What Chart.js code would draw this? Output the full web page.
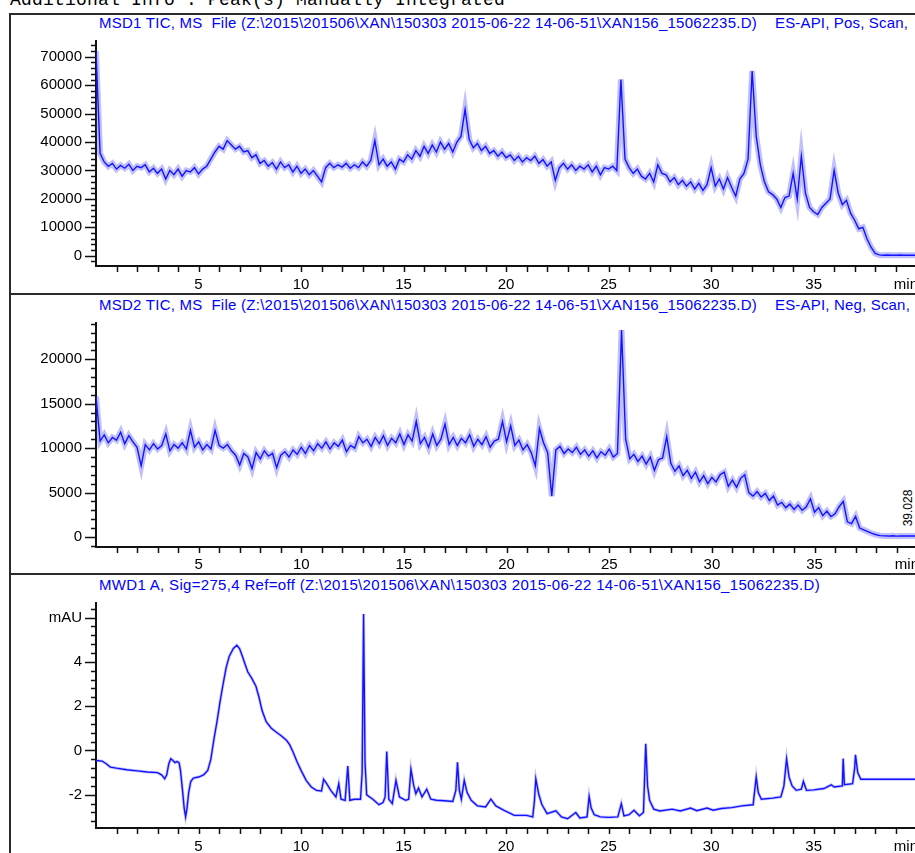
<!DOCTYPE html>
<html>
<head>
<meta charset="utf-8">
<title>MSD / MWD chromatogram</title>
<script src="https://cdn.jsdelivr.net/npm/chart.js@4.4.1/dist/chart.umd.min.js"></script>
<style>
  html, body { margin: 0; padding: 0; background: #fff; overflow: hidden; }
  body { position: relative; width: 915px; height: 853px; font-family: "Liberation Sans", Arial, sans-serif; }
  .hdr { position: absolute; left: 10px; top: -9px; font: 18px/18px "Liberation Mono", monospace; white-space: pre; color: #000; }
  .frame { position: absolute; background: #2a2a2a; }
  .ttl { position: absolute; font-size: 15px; line-height: 15px; color: #0000ff; white-space: pre; }
  .peak { position: absolute; left: 908px; top: 508px; font-size: 12px; line-height: 12px; color: #000;
          transform: translate(-50%, -50%) rotate(-90deg); white-space: pre; }
  canvas { position: absolute; left: 0; }
</style>
</head>
<body>
<div class="hdr" data-w="495">Additional Info : Peak(s) Manually Integrated</div>

<div class="frame" style="left:9px; top:14px; width:2px; height:840px;"></div>
<div class="frame" style="left:9px; top:13px; width:910px; height:2px;"></div>
<div class="frame" style="left:9px; top:293px; width:910px; height:2px;"></div>
<div class="frame" style="left:9px; top:573px; width:910px; height:2px;"></div>

<div class="ttl" style="left:99px; top:15px;" data-w="658">MSD1 TIC, MS  File (Z:\2015\201506\XAN\150303 2015-06-22 14-06-51\XAN156_15062235.D)</div>
<div class="ttl" style="left:775px; top:15px;" data-w="133">ES-API, Pos, Scan,</div>
<div class="ttl" style="left:99px; top:297px;" data-w="658">MSD2 TIC, MS  File (Z:\2015\201506\XAN\150303 2015-06-22 14-06-51\XAN156_15062235.D)</div>
<div class="ttl" style="left:775px; top:297px;" data-w="135">ES-API, Neg, Scan,</div>
<div class="ttl" style="left:99px; top:577px;" data-w="721">MWD1 A, Sig=275,4 Ref=off (Z:\2015\201506\XAN\150303 2015-06-22 14-06-51\XAN156_15062235.D)</div>
<div class="peak">39.028</div>

<canvas id="msd1" width="928" height="279" style="top:14px"></canvas>
<canvas id="msd2" width="928" height="280" style="top:294px"></canvas>
<canvas id="mwd1" width="928" height="279" style="top:574px"></canvas>

<script>
// ---- data ----

// shared time axis (min)
const xMax = 40.5;
const xTickValues = [5, 10, 15, 20, 25, 30, 35, 39.5];
const xTickLabels = ["5", "10", "15", "20", "25", "30", "35", "min"];

// MSD traces are sampled every 0.2 min from 0 to 40 min
const msdStep = 0.2;
const msdTimes = Array.from({ length: 201 }, (_, i) => +(i * msdStep).toFixed(1));

// MSD1 TIC, positive scan
const msd1Values = [
  72000, 36000, 33000, 31500, 32500, 30500, 31800, 30800, 32200, 30000,
  31500, 31000, 32000, 29500, 30800, 29000, 30500, 27000, 30000, 28500,
  30500, 28000, 30000, 29500, 31000, 28800, 30500, 31500, 34000, 36500,
  38500, 37500, 40500, 39000, 37500, 38500, 36500, 37000, 34500, 35500,
  32500, 33500, 31500, 32800, 30500, 33000, 31000, 32000, 29500, 31500,
  29000, 30500, 28500, 30000, 28000, 26000, 31000, 32500, 31000, 32000,
  31200, 32500, 30800, 32000, 31000, 33000, 31500, 33500, 40500, 32000,
  34000, 31500, 33000, 30500, 34000, 33000, 35500, 34000, 37000, 35000,
  38500, 36000, 39000, 36500, 40000, 37500, 39500, 36500, 40000, 42000,
  51500, 41000, 38000, 39500, 37000, 38500, 36000, 37000, 35000, 36500,
  34500, 35500, 33500, 35000, 33000, 34500, 33500, 35000, 32500, 33800,
  31500, 33000, 26500, 31000, 32500, 30500, 32000, 30000, 31500, 30500,
  32000, 29500, 31500, 28500, 31000, 30500, 31500, 30000, 62000, 34000,
  31000, 29000, 30500, 28000, 27000, 29000, 26000, 32000, 29000, 28500,
  26000, 27500, 25000, 26500, 24500, 26000, 23500, 25500, 23000, 25000,
  31000, 24500, 27000, 23500, 27500, 24000, 21000, 27000, 29000, 34000,
  65000, 42000, 32000, 26000, 22500, 21500, 20000, 17000, 20500, 21000,
  29000, 20000, 35000, 22000, 17000, 15500, 14500, 17000, 18500, 20000,
  30000, 22000, 18000, 19500, 15000, 12500, 9500, 10000, 6000, 3000,
  800, 300, 200, 250, 200, 200, 250, 200, 200, 200,
  200
];

// MSD2 TIC, negative scan
const msd2Values = [
  15800, 10800, 11500, 10600, 11200, 10900, 11800, 10500, 11400, 10700,
  10100, 8000, 10400, 9800, 10500, 9900, 10300, 11600, 9700, 10400,
  10000, 10600, 9900, 12000, 10100, 10700, 9800, 10400, 9900, 12000,
  10300, 10000, 10400, 9700, 9200, 8100, 9400, 9000, 7700, 9500,
  8800, 9700, 9100, 9400, 7800, 9200, 9600, 9000, 9800, 9300,
  10100, 9400, 10300, 9700, 10500, 10000, 10700, 9900, 10600, 10200,
  10900, 9600, 10300, 10000, 11300, 10600, 11000, 10200, 11200, 10500,
  11400, 10300, 11100, 10600, 11600, 10400, 11500, 10800, 13000, 10500,
  11200, 10100, 11600, 10300, 11000, 12700, 10400, 11200, 10300, 11100,
  10600, 11500, 10200, 11000, 10400, 11300, 10100, 10800, 11000, 13000,
  10700, 12500, 10300, 10900, 9800, 10400, 9500, 8000, 12200, 10600,
  9500, 4600, 9800, 10200, 9400, 9900, 9500, 10100, 9300, 9800,
  9100, 9700, 8900, 9600, 9200, 9900, 9000, 9400, 23300, 11000,
  8800, 9300, 8500, 9100, 8200, 9000, 7500, 8700, 8900, 11300,
  8300, 7400, 8000, 6900, 7500, 6600, 7300, 6200, 6900, 6000,
  6700, 6200, 7000, 7300, 5700, 6400, 5600, 6600, 7000, 5000,
  4600, 5100, 4500, 4900, 4100, 4600, 3600, 3900, 3300, 3700,
  3100, 3600, 3000, 3400, 4300, 2800, 3300, 2400, 2900, 2300,
  2600, 3400, 4000, 1700, 1500, 2300, 1000, 800, 600, 400,
  250, 150, 120, 100, 130, 90, 110, 100, 120, 100,
  100
];

// MWD1 A, 275 nm (mAU) - irregular sampling so the sharp peaks keep their shape
const mwdTimes = [
  0.0, 0.3, 0.5, 0.7, 1.0, 1.5, 2.0, 2.5, 3.0, 3.2,
  3.35, 3.45, 3.55, 3.65, 3.75, 3.85, 3.95, 4.05, 4.12, 4.22,
  4.3, 4.37, 4.44, 4.52, 4.62, 4.75, 5.0, 5.25, 5.45, 5.6,
  5.75, 5.9, 6.05, 6.2, 6.35, 6.5, 6.7, 6.87, 7.0, 7.1,
  7.25, 7.4, 7.6, 7.8, 7.95, 8.1, 8.3, 8.55, 8.8, 9.05,
  9.3, 9.45, 9.6, 9.8, 10.0, 10.25, 10.5, 10.75, 11.0, 11.1,
  11.25, 11.45, 11.7, 11.84, 11.95, 12.15, 12.28, 12.38, 12.6, 12.9,
  12.98, 13.05, 13.12, 13.2, 13.5, 13.8, 14.0, 14.1, 14.18, 14.28,
  14.45, 14.63, 14.8, 15.1, 15.25, 15.36, 15.5, 15.6, 15.73, 15.9,
  16.13, 16.33, 16.6, 17.0, 17.4, 17.55, 17.63, 17.72, 17.82, 17.96,
  18.1, 18.3, 18.6, 19.0, 19.26, 19.5, 19.9, 20.4, 21.0, 21.3,
  21.38, 21.45, 21.6, 21.75, 22.0, 22.43, 22.7, 23.0, 23.4, 23.6,
  23.95, 24.05, 24.15, 24.3, 24.6, 25.0, 25.45, 25.62, 25.75, 26.0,
  26.24, 26.5, 26.7, 26.81, 26.9, 27.0, 27.2, 27.5, 28.1, 28.5,
  29.0, 29.3, 29.8, 30.1, 30.5, 31.0, 31.5, 32.05, 32.15, 32.2,
  32.3, 32.45, 33.0, 33.4, 33.55, 33.68, 33.8, 33.95, 34.15, 34.4,
  34.5, 34.65, 35.0, 35.5, 35.86, 36.0, 36.4, 36.44, 36.5, 36.9,
  37.0, 37.04, 37.15, 37.3, 38.0, 39.0, 40.5
];
const mwdValues = [
  -0.45, -0.48, -0.6, -0.75, -0.8, -0.87, -0.92, -0.97, -1.0, -1.1,
  -1.28, -1.1, -0.6, -0.37, -0.45, -0.55, -0.5, -0.55, -0.9, -1.8,
  -2.6, -3.0, -2.6, -1.9, -1.4, -1.25, -1.2, -1.1, -0.9, -0.4,
  0.5, 1.3, 2.2, 3.0, 3.75, 4.25, 4.6, 4.75, 4.6, 4.35,
  3.95, 3.55, 3.25, 2.9, 2.4, 1.8, 1.3, 1.0, 0.82, 0.65,
  0.45, 0.25, -0.05, -0.5, -0.9, -1.35, -1.65, -1.8, -1.83, -1.3,
  -1.5, -1.8, -2.1, -1.5, -2.2, -2.25, -0.7, -2.25, -2.2, -2.2,
  -1.0, 6.16, -0.5, -2.0, -2.2, -2.45, -2.35, -2.1, -0.05, -2.2,
  -2.4, -1.35, -2.1, -2.25, -2.2, -0.85, -1.6, -1.95, -1.7, -2.1,
  -1.75, -2.2, -2.25, -2.27, -2.3, -1.8, -0.53, -1.8, -2.2, -1.35,
  -1.9, -2.25, -2.5, -2.55, -2.2, -2.5, -2.7, -2.93, -2.93, -3.0,
  -2.3, -1.28, -2.0, -2.45, -2.85, -2.72, -3.0, -3.08, -2.8, -3.05,
  -3.0, -2.07, -2.6, -2.9, -3.0, -3.02, -3.0, -2.4, -2.95, -2.9,
  -2.7, -2.95, -2.8, 0.3, -1.6, -2.25, -2.65, -2.73, -2.65, -2.73,
  -2.6, -2.72, -2.6, -2.7, -2.62, -2.58, -2.5, -2.45, -1.6, -1.2,
  -1.9, -2.2, -2.15, -2.1, -1.6, -0.38, -1.2, -1.6, -1.8, -1.75,
  -1.4, -1.8, -1.78, -1.72, -1.55, -1.65, -1.6, -0.37, -1.55, -1.5,
  -0.8, -0.2, -1.0, -1.3, -1.3, -1.3, -1.3
];

// y axis ticks per panel
const msd1YTicks = [0, 10000, 20000, 30000, 40000, 50000, 60000, 70000];
const msd2YTicks = [0, 5000, 10000, 15000, 20000];
const mwdYTicks = [-2, 0, 2, 4, 6];
const mwdYLabels = ["-2", "0", "2", "4", "mAU"];

// ---- drawing ----

const tickFont = { family: "'Liberation Sans', Arial, sans-serif", size: 15 };

// Agilent style axes: plain axis lines, long/short ticks on y, minute ticks on x
const agilentAxes = {
  id: "agilentAxes",
  beforeDatasetsDraw(chart, args, opts) {
    const { ctx, chartArea: a, scales } = chart;
    const x = scales.x;
    const y = scales.y;
    ctx.save();
    ctx.strokeStyle = "#111";
    ctx.lineWidth = 1.5;
    ctx.beginPath();
    for (let i = 0; ; i++) {
      const v = opts.minorStart + i * opts.minorStep;
      if (v > y.max) break;
      const py = Math.round(y.getPixelForValue(v)) + 0.5;
      const r = v / opts.majorStep;
      const len = Math.abs(r - Math.round(r)) < 1e-6 ? 11 : 5;
      ctx.moveTo(a.left - len, py);
      ctx.lineTo(a.left, py);
    }
    for (let m = 1; m <= Math.floor(x.max); m++) {
      const px = Math.round(x.getPixelForValue(m)) + 0.5;
      ctx.moveTo(px, a.bottom);
      ctx.lineTo(px, a.bottom + 6);
    }
    ctx.stroke();

    ctx.lineWidth = 2;
    ctx.beginPath();
    ctx.moveTo(a.left, a.top);
    ctx.lineTo(a.left, a.bottom + 1);
    ctx.moveTo(a.left, a.bottom);
    ctx.lineTo(a.right, a.bottom);
    ctx.stroke();
    ctx.restore();
  }
};

// a soft wide stroke under a thin one gives the fuzzy look of the printed trace
function traceDatasets(times, values, haloWidth, haloAlpha) {
  const pts = times.map(function (t, i) {
    return { x: t, y: values[i] };
  });
  return [
    { data: pts, borderColor: "rgba(60, 60, 255, " + haloAlpha + ")", borderWidth: haloWidth, pointRadius: 0, tension: 0 },
    { data: pts, borderColor: "#0000ff", borderWidth: 1.4, pointRadius: 0, tension: 0 }
  ];
}

function makePanel(id, cfg) {
  return new Chart(document.getElementById(id), {
    type: "line",
    data: { datasets: traceDatasets(cfg.times, cfg.values, cfg.halo, cfg.haloAlpha) },
    options: {
      responsive: false,
      animation: false,
      devicePixelRatio: 1,
      events: [],
      layout: { padding: { top: cfg.padTop, left: 0, right: 0, bottom: 0 } },
      plugins: {
        legend: { display: false },
        tooltip: { enabled: false },
        agilentAxes: { minorStart: cfg.minorStart, minorStep: cfg.minorStep, majorStep: cfg.majorStep }
      },
      scales: {
        x: {
          type: "linear",
          min: 0,
          max: xMax,
          grid: { display: false, drawTicks: false },
          border: { display: false },
          afterBuildTicks: function (s) {
            s.ticks = xTickValues.map(function (v) { return { value: v }; });
          },
          afterFit: function (s) { s.height = cfg.xHeight; },
          ticks: {
            autoSkip: false,
            maxRotation: 0,
            padding: cfg.xPad,
            color: "#000",
            font: tickFont,
            callback: function (v, i) { return xTickLabels[i]; }
          }
        },
        y: {
          type: "linear",
          min: cfg.yMin,
          max: cfg.yMax,
          grid: { display: false, drawTicks: false },
          border: { display: false },
          afterBuildTicks: function (s) {
            s.ticks = cfg.yTicks.map(function (v) { return { value: v }; });
          },
          afterFit: function (s) { s.width = 96; },
          ticks: {
            padding: 14,
            color: "#000",
            font: tickFont,
            callback: function (v, i) { return cfg.yLabels ? cfg.yLabels[i] : String(v); }
          }
        }
      }
    },
    plugins: [agilentAxes]
  });
}

makePanel("msd1", {
  times: msdTimes, values: msd1Values, halo: 6, haloAlpha: 0.32,
  yMin: -3600, yMax: 75900, yTicks: msd1YTicks,
  minorStart: -2000, minorStep: 2000, majorStep: 10000,
  padTop: 26, xHeight: 27, xPad: 10
});

makePanel("msd2", {
  times: msdTimes, values: msd2Values, halo: 6, haloAlpha: 0.32,
  yMin: -1130, yMax: 24200, yTicks: msd2YTicks,
  minorStart: -1000, minorStep: 1000, majorStep: 5000,
  padTop: 28, xHeight: 27, xPad: 9
});

makePanel("mwd1", {
  times: mwdTimes, values: mwdValues, halo: 3, haloAlpha: 0.3,
  yMin: -3.5, yMax: 6.7, yTicks: mwdYTicks, yLabels: mwdYLabels,
  minorStart: -3.2, minorStep: 0.4, majorStep: 2,
  padTop: 28, xHeight: 25, xPad: 10
});

// stretch the header and title lines to the widths they have in the printout
document.querySelectorAll("[data-w]").forEach(function (el) {
  const target = +el.dataset.w;
  const w = el.getBoundingClientRect().width;
  const n = el.textContent.length;
  if (n > 1) {
    el.style.letterSpacing = ((target - w) / n).toFixed(3) + "px";
  }
});
</script>
</body>
</html>
